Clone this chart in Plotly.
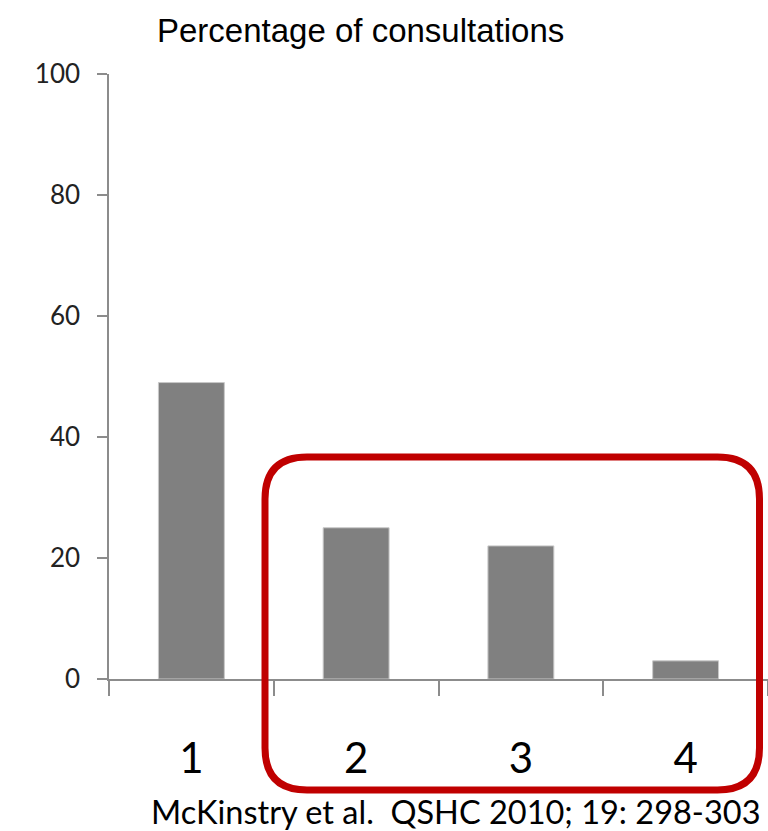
import plotly.graph_objects as go

categories = ["1", "2", "3", "4"]
pct_consultations = [49, 25, 22, 3]
y_ticks = [0, 20, 40, 60, 80, 100]

W, H = 768, 831
L, R, T, B = 109, 0, 74, 152
pw, ph = W - L - R, H - T - B


def px(x):
    return (x - L) / pw


def py(y):
    return (H - B - y) / ph


fig = go.Figure(
    go.Bar(
        x=categories,
        y=pct_consultations,
        width=0.4,
        marker=dict(color="#808080", line=dict(color="#c8c8c8", width=1)),
    )
)

# rounded highlight box around categories 2-4
x0, x1, y0, y1, r = 265, 759.5, 457, 790, 42
path = (
    f"M {px(x0 + r)},{py(y0)} L {px(x1 - r)},{py(y0)} "
    f"Q {px(x1)},{py(y0)} {px(x1)},{py(y0 + r)} "
    f"L {px(x1)},{py(y1 - r)} Q {px(x1)},{py(y1)} {px(x1 - r)},{py(y1)} "
    f"L {px(x0 + r)},{py(y1)} Q {px(x0)},{py(y1)} {px(x0)},{py(y1 - r)} "
    f"L {px(x0)},{py(y0 + r)} Q {px(x0)},{py(y0)} {px(x0 + r)},{py(y0)} Z"
)
fig.add_shape(type="path", path=path, xref="paper", yref="paper",
              line=dict(color="#c00000", width=7), layer="above")

fig.add_annotation(text="Percentage of consultations", x=px(360), y=py(31),
                   xref="paper", yref="paper", showarrow=False,
                   xanchor="center", yanchor="middle",
                   font=dict(family="Liberation Sans Narrow, Arial Narrow, Liberation Sans, sans-serif",
                             size=33, color="#000000"))
fig.add_annotation(text="McKinstry et al.  QSHC 2010; 19: 298-303", x=px(763), y=py(811),
                   xref="paper", yref="paper", showarrow=False,
                   xanchor="right", yanchor="middle",
                   font=dict(family="Lato, sans-serif", size=32.5, color="#000000"))

fig.update_layout(
    width=W, height=H,
    margin=dict(l=L, r=R, t=T, b=B, pad=0),
    paper_bgcolor="white", plot_bgcolor="white",
    showlegend=False,
    bargap=0.6,
    xaxis=dict(
        type="category", range=[-0.5, 3.5],
        showline=True, linecolor="#8c8c8c", linewidth=1.5,
        ticks="outside", tickson="boundaries", ticklen=15, tickcolor="#8c8c8c", tickwidth=1.5,
        ticklabelstandoff=42,
        tickfont=dict(family="Lato, sans-serif", size=42, color="#000000"),
        showgrid=False, zeroline=False,
    ),
    yaxis=dict(
        range=[0, 100], tickvals=y_ticks,
        showline=True, linecolor="#8c8c8c", linewidth=1.5,
        ticks="outside", ticklen=10, tickcolor="#8c8c8c", tickwidth=1.5,
        ticklabelstandoff=12,
        tickfont=dict(family="Lato, sans-serif", size=26, color="#222222"),
        showgrid=False, zeroline=False,
    ),
)

fig.write_html("out.html")
